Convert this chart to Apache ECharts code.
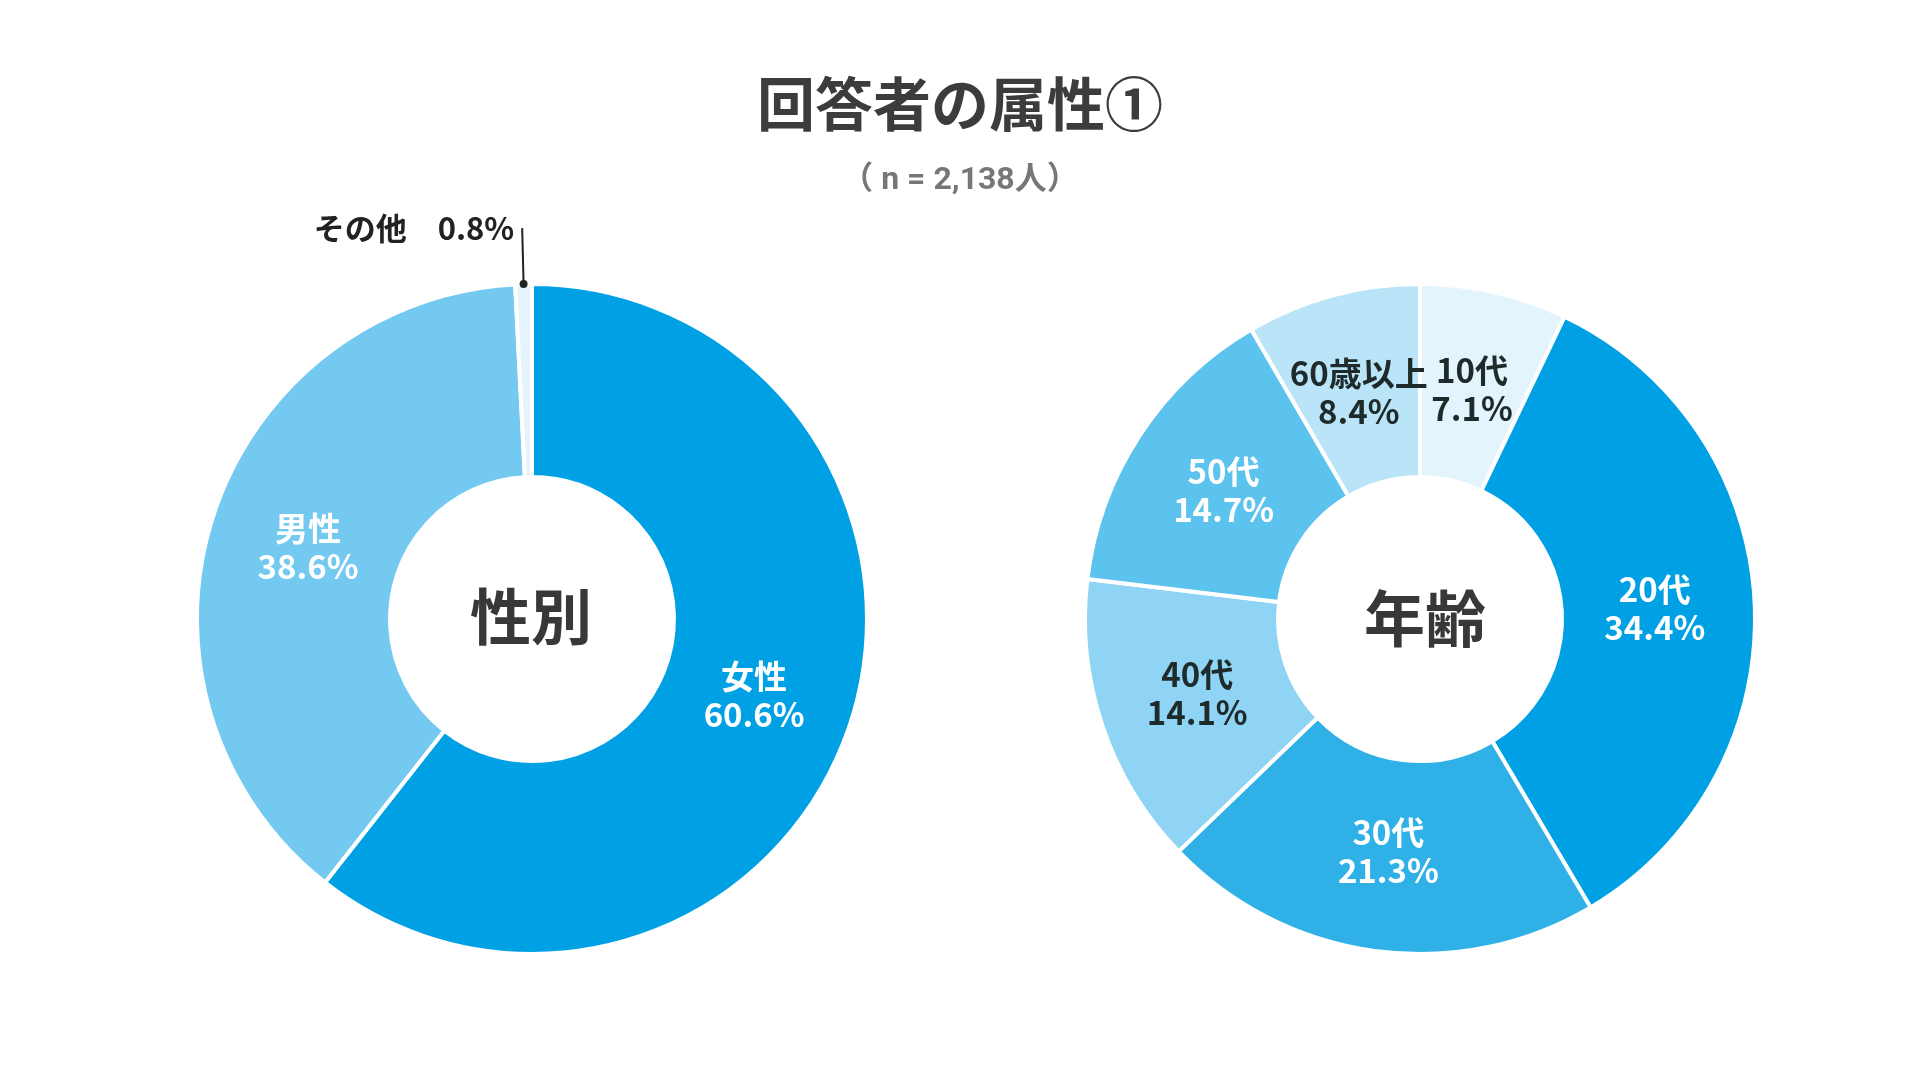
<!DOCTYPE html>
<html>
<head>
<meta charset="utf-8">
<title>回答者の属性①</title>
<script src="https://cdn.jsdelivr.net/npm/echarts@6.0.0/dist/echarts.min.js"></script>
<style>
	body { margin: 0; background: #ffffff; }
	#main { width: 1920px; height: 1080px; }
</style>
</head>
<body>
<div id="main"></div>
<script>
// Données (en %)
var genderNames = ['女性', '男性', 'その他'];
var genderValues = [60.6, 38.6, 0.8];
var ageNames = ['10代', '20代', '30代', '40代', '50代', '60歳以上'];
var ageValues = [7.1, 34.4, 21.3, 14.1, 14.7, 8.4];

var genderColors = ['#00a0e4', '#74c9f0', '#e4f4fc'];
var genderTextColors = ['#ffffff', '#ffffff', '#222222'];
var ageColors = ['#e4f4fc', '#00a0e4', '#2fb1e7', '#8fd4f4', '#5cc3ef', '#bae5f8'];
var ageTextColors = ['#1f2b2b', '#ffffff', '#ffffff', '#1f2b2b', '#ffffff', '#1f2b2b'];

var fontCJK = '"Noto Sans CJK JP", "Noto Sans", sans-serif';

// Données des anneaux (secteurs colorés, sans étiquette)
function buildRing(names, values, colors) {
	var data = [];
	for (var i = 0; i < names.length; i++) {
		data.push({ name: names[i], value: values[i], itemStyle: { color: colors[i] } });
	}
	return data;
}

// Données des étiquettes (secteurs transparents un peu plus étroits)
function buildLabels(names, values, textColors) {
	var data = [];
	for (var i = 0; i < names.length; i++) {
		data.push({ name: names[i], value: values[i], label: { color: textColors[i] } });
	}
	return data;
}

var genderRing = buildRing(genderNames, genderValues, genderColors);
var ageRing = buildRing(ageNames, ageValues, ageColors);
var genderLabels = buildLabels(genderNames, genderValues, genderTextColors);
var ageLabels = buildLabels(ageNames, ageValues, ageTextColors);

// "その他" : étiquette extérieure avec trait vertical, sur l'anneau lui-même
genderLabels[2].label = { show: false };
genderRing[2].label = {
	show: true,
	position: 'outside',
	formatter: '{b}　{c}%',
	fontFamily: fontCJK,
	fontSize: 31,
	fontWeight: 'bold',
	color: '#222222',
	distanceToLabelLine: 8
};
genderRing[2].labelLine = {
	show: true,
	length: 56,
	length2: 0,
	lineStyle: { color: '#222222', width: 2 }
};

function ringSeries(center, data) {
	return {
		type: 'pie',
		center: center,
		radius: [142, 335],
		startAngle: 90,
		clockwise: true,
		avoidLabelOverlap: false,
		silent: true,
		itemStyle: { borderColor: '#ffffff', borderWidth: 4 },
		label: { show: false },
		labelLine: { show: false },
		data: data
	};
}

function labelSeries(center, data) {
	return {
		type: 'pie',
		center: center,
		radius: [142, 322],
		startAngle: 90,
		clockwise: true,
		avoidLabelOverlap: false,
		silent: true,
		z: 3,
		itemStyle: { color: 'rgba(0,0,0,0)' },
		label: {
			show: true,
			position: 'inside',
			formatter: '{b}\n{c}%',
			fontFamily: fontCJK,
			fontSize: 33,
			fontWeight: 'bold',
			lineHeight: 38
		},
		labelLine: { show: false },
		data: data
	};
}

var myChart = echarts.init(document.getElementById('main'));

var option = {
	animation: false,
	backgroundColor: '#ffffff',
	title: [{
		text: '回答者の属性①',
		subtext: '（ n = 2,138人）',
		left: 'center',
		top: 70,
		itemGap: 32,
		textStyle: {
			fontFamily: fontCJK,
			fontSize: 58,
			fontWeight: 'bold',
			color: '#3c3c3c'
		},
		subtextStyle: {
			fontFamily: 'Roboto, "Noto Sans CJK JP", sans-serif',
			fontSize: 32,
			fontWeight: 'bold',
			color: '#777777'
		}
	}, {
		text: '性別',
		left: 526,
		top: 612,
		textAlign: 'center',
		textVerticalAlign: 'middle',
		textStyle: { fontFamily: fontCJK, fontSize: 61, fontWeight: 'bold', color: '#383838' }
	}, {
		text: '年齢',
		left: 1420,
		top: 614,
		textAlign: 'center',
		textVerticalAlign: 'middle',
		textStyle: { fontFamily: fontCJK, fontSize: 61, fontWeight: 'bold', color: '#383838' }
	}],
	series: [
		ringSeries([532, 619], genderRing),
		ringSeries([1420, 619], ageRing),
		labelSeries([532, 619], genderLabels),
		labelSeries([1420, 619], ageLabels)
	]
};

myChart.setOption(option);

// Point au départ du trait de "その他", calculé depuis la mise en page d'ECharts
var layout = myChart.getModel().getSeriesByIndex(0).getData().getItemLayout(2);
if (layout) {
	var mid = (layout.startAngle + layout.endAngle) / 2;
	myChart.setOption({
		graphic: [{
			type: 'circle',
			silent: true,
			shape: {
				cx: layout.cx + layout.r * Math.cos(mid),
				cy: layout.cy + layout.r * Math.sin(mid),
				r: 4
			},
			style: { fill: '#222222' },
			z: 10
		}]
	});
}
</script>
</body>
</html>
